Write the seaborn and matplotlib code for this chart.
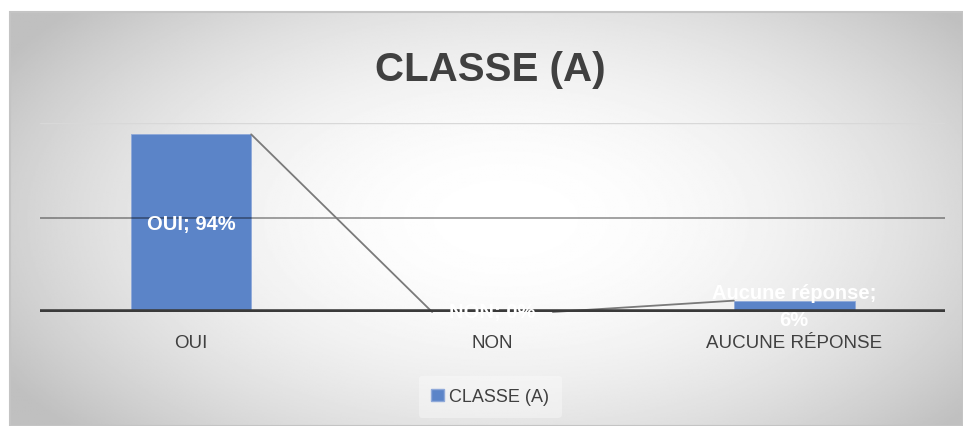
import numpy as np
import pandas as pd
import matplotlib
matplotlib.use('Agg')
import matplotlib.pyplot as plt
from matplotlib.patches import Patch
import seaborn as sns

# donnees
categories = ['OUI', 'NON', 'AUCUNE RÉPONSE']
label_names = ['OUI', 'NON', 'Aucune réponse']
valeurs = [0.94, 0.0, 0.06]
serie = 'CLASSE (A)'

df = pd.DataFrame({'categorie': categories, 'valeur': valeurs})

sns.set_theme(style='white')
plt.rcParams['font.family'] = ['Liberation Sans', 'DejaVu Sans']

bleu = '#5B84C8'
gris_texte = '#404040'
largeur = 0.4

fig = plt.figure(figsize=(9.63, 4.27), dpi=100)

# fond avec degrade radial (zone du graphique)
bg = fig.add_axes([10 / 963, 0, 953 / 963, 414 / 427])
yy, xx = np.mgrid[0:1:300j, 0:1:600j]
r = np.sqrt(((xx - 0.52) / 0.6) ** 2 + ((yy - 0.5) / 0.75) ** 2)
grad = np.clip(1 - 0.24 * r ** 2, 0.75, 1)
bg.imshow(grad, cmap='gray', vmin=0, vmax=1, aspect='auto', extent=[0, 1, 0, 1])
bg.axis('off')
fig.patches.append(plt.Rectangle((10 / 963, 0), 953 / 963, 414 / 427, transform=fig.transFigure,
                                 fill=False, edgecolor='#c4c4c4', lw=1.5))

ax = fig.add_axes([40 / 963, 114 / 427, 905 / 963, 189 / 427])
ax.patch.set_alpha(0)
sns.barplot(data=df, x='categorie', y='valeur', color=bleu, width=largeur,
            saturation=1, edgecolor='#8fa9d9', linewidth=0.6, ax=ax, zorder=2)
ax.set_xlim(-0.5, len(categories) - 0.5)
ax.set_ylim(0, 1)
for s in ax.spines.values():
    s.set_visible(False)
ax.set_yticks([])
ax.set_xlabel('')
ax.set_ylabel('')
ax.tick_params(axis='x', length=0, pad=16, labelsize=13.5, labelcolor=gris_texte)

# quadrillage
ax.axhline(1.0, color='#d8d8d8', lw=1, zorder=1)
ax.axhline(0.5, color='black', alpha=0.42, lw=1.2, zorder=3)

# lignes de serie entre les barres
for i in range(len(valeurs) - 1):
    ax.plot([i + largeur / 2, i + 1 - largeur / 2], [valeurs[i], valeurs[i + 1]],
            color='#7a7a7a', lw=1.3, zorder=4, clip_on=False)

ax.axhline(0, color='#3a3a3a', lw=4, zorder=5)

# etiquettes de donnees
for i, (nom, v) in enumerate(zip(label_names, valeurs)):
    txt = f'{nom}; {v:.0%}'
    if len(nom) > 10:
        txt = f'{nom};\n{v:.0%}'
    ax.text(i, v / 2, txt, ha='center', va='center', color='white',
            fontsize=14.5, fontweight='bold', linespacing=1.55, zorder=6)

fig.text(0.509, 0.835, serie, ha='center', va='center', fontsize=29,
         fontweight='bold', color=gris_texte)

leg = fig.legend(handles=[Patch(facecolor=bleu, edgecolor='#8fa9d9', label=serie)],
                 loc='center', bbox_to_anchor=(0.509, 0.068), frameon=True,
                 fontsize=13, handlelength=0.7, handleheight=0.7, handletextpad=0.3,
                 borderpad=0.7)
leg.get_frame().set_facecolor('white')
leg.get_frame().set_alpha(0.35)
leg.get_frame().set_edgecolor('none')
for t in leg.get_texts():
    t.set_color(gris_texte)

fig.savefig('out.png', dpi=100)
